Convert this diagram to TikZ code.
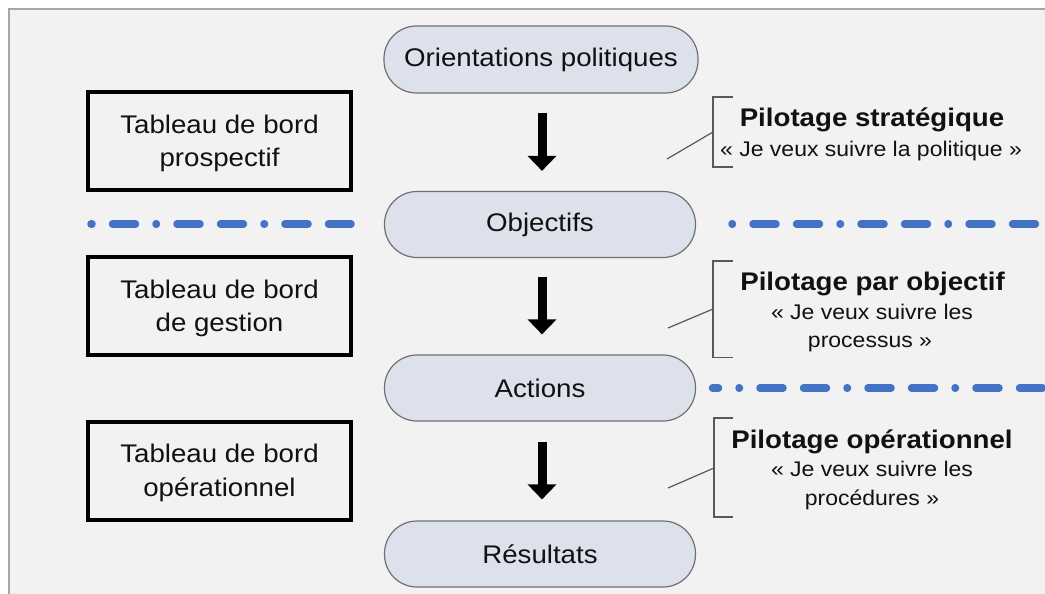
\documentclass[tikz,border=0pt]{standalone}
\usepackage{fontspec}
\setmainfont{Liberation Sans}[FakeStretch=1.085]
\usetikzlibrary{arrows.meta}
\definecolor{bgc}{HTML}{F2F2F2}
\definecolor{framec}{HTML}{A6A6A6}
\definecolor{pillfill}{HTML}{DCE1EB}
\definecolor{pilldraw}{HTML}{707070}
\definecolor{sepblue}{HTML}{4472C4}
\definecolor{txt}{HTML}{111111}
\definecolor{brkc}{HTML}{595959}
\tikzset{
  pill/.style={draw=pilldraw, line width=1.2pt, fill=pillfill, rounded corners=32.5pt,
    minimum width=311pt, minimum height=66pt, inner sep=0pt, text=txt,
    font=\fontsize{25.5}{34}\selectfont},
  tbox/.style={draw=black, line width=4pt, minimum width=263pt, minimum height=98pt,
    inner sep=0pt, align=center, text=txt, text depth=0pt, font=\fontsize{25.5}{33.5}\selectfont},
  bigarrow/.style={line width=9pt, -{Triangle[width=28pt,length=15pt]}, black},
  sepline/.style={draw=sepblue, line width=7.5pt, line cap=round,
    dash pattern=on 0.5pt off 20.5pt on 23pt off 20.5pt on 23pt off 20.5pt},
  brk/.style={draw=brkc, line width=1.2pt},
  headlbl/.style={anchor=base, inner sep=0pt, text=txt, font=\fontsize{25.5}{30}\selectfont\bfseries},
  sublbl/.style={anchor=base, inner sep=0pt, text=txt, font=\fontsize{21.2}{28}\selectfont}
}
\begin{document}
\begin{tikzpicture}[x=1pt,y=-1pt]
\useasboundingbox (0,0) rectangle (1045,594);
\fill[white] (0,0) rectangle (1045,594);
\draw[fill=bgc, draw=framec, line width=1.5pt] (9,9) rectangle (1060,610);

% pills
\node[pill, minimum width=314pt, minimum height=67pt] (op) at (541,59.5) {Orientations politiques};
\node[pill] (obj) at (540,224.5) {Objectifs};
\node[pill] (act) at (540,388) {Actions};
\node[pill] (res) at (540,554) {Résultats};

% arrows
\draw[bigarrow, shorten <=19pt, shorten >=20pt] ([xshift=1pt]op.south) -- ([xshift=2pt]obj.north);
\draw[bigarrow, shorten <=19pt, shorten >=20pt] ([xshift=2pt]obj.south) -- ([xshift=2pt]act.north);
\draw[bigarrow, shorten <=20pt, shorten >=21pt] ([xshift=2pt]act.south) -- ([xshift=2pt]res.north);

% left boxes
\node[tbox] (tb1) at (219.5,141) {Tableau de bord\\prospectif};
\node[tbox] (tb2) at (219.5,306) {Tableau de bord\\de gestion};
\node[tbox] (tb3) at (219.5,470.5) {Tableau de bord\\opérationnel};

% separator lines
\coordinate (s1a) at (91,224);
\coordinate (s1b) at (351,224);
\coordinate (s2a) at (732,224);
\coordinate (s2b) at (1048,224);
\coordinate (s3a) at (712.5,388);
\coordinate (s3b) at (1048,388);
\draw[sepline, dash phase=43pt] (s1a) -- (s1b);
\draw[sepline] (s2a) -- (s2b);
\draw[sepline, dash phase=81.5pt] (s3a) -- (s3b);

% right labels
\node[headlbl] (h1) at (872,126) {Pilotage stratégique};
\node[sublbl] (h1a) at (871,156.5) {«~Je veux suivre la politique~»};
\node[headlbl] (h2) at (872.5,290) {Pilotage par objectif};
\node[sublbl] (h2a) at (872,319) {«~Je veux suivre les};
\node[sublbl] (h2b) at (870,347) {processus~»};
\node[headlbl] (h3) at (872,448) {Pilotage opérationnel};
\node[sublbl] (h3a) at (872,476.5) {«~Je veux suivre les};
\node[sublbl] (h3b) at (872,505) {procédures~»};

% brackets
\coordinate (b1t) at (733,97);   \coordinate (b1u) at (713,97);
\coordinate (b1d) at (713,167);  \coordinate (b1e) at (733,167);
\coordinate (b1m) at (713,132);  \coordinate (b1p) at (667,159);
\draw[brk] (b1t) -- (b1u) -- (b1d) -- (b1e);
\draw[brk] (b1p) -- (b1m);

\coordinate (b2t) at (733,261);  \coordinate (b2u) at (713,261);
\coordinate (b2d) at (713,357.5);\coordinate (b2e) at (733,357.5);
\coordinate (b2m) at (713,309);  \coordinate (b2p) at (668,328);
\draw[brk] (b2t) -- (b2u) -- (b2d) -- (b2e);
\draw[brk] (b2p) -- (b2m);

\coordinate (b3t) at (733,418);  \coordinate (b3u) at (714,418);
\coordinate (b3d) at (714,517);  \coordinate (b3e) at (733,517);
\coordinate (b3m) at (714,468);  \coordinate (b3p) at (668,488);
\draw[brk] (b3t) -- (b3u) -- (b3d) -- (b3e);
\draw[brk] (b3p) -- (b3m);
\end{tikzpicture}
\end{document}
